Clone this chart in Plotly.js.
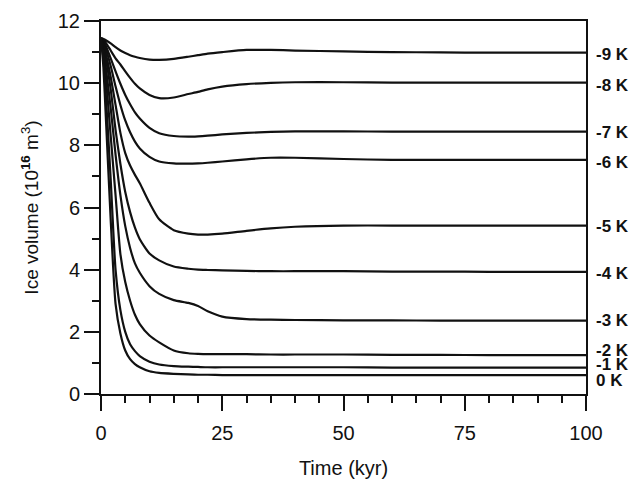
<!DOCTYPE html>
<html>
<head>
<meta charset="utf-8">
<script src="https://cdn.plot.ly/plotly-3.0.1.min.js"></script>
<style>html,body{margin:0;padding:0;background:#fff;}#chart{width:638px;height:480px;}</style>
</head>
<body>
<div id="chart"></div>
<script>
// Time (kyr)
const time = [0, 0.5, 1, 2, 3, 4, 5, 6, 7, 8, 10, 12, 15, 18, 20, 22, 25, 30, 35, 40, 50, 60, 70, 80, 90, 100];
// Ice volume (10^16 m^3) for each temperature anomaly
const labels = ["-9 K", "-8 K", "-7 K", "-6 K", "-5 K", "-4 K", "-3 K", "-2 K", "-1 K", "0 K"];
const m9 = [11.45, 11.42, 11.38, 11.28, 11.16, 11.05, 10.97, 10.9, 10.85, 10.81, 10.76, 10.75, 10.78, 10.85, 10.9, 10.95, 11.0, 11.07, 11.07, 11.05, 11.02, 11.0, 10.99, 10.98, 10.98, 10.98];
const m8 = [11.45, 11.4, 11.3, 11.05, 10.8, 10.6, 10.38, 10.17, 9.98, 9.83, 9.62, 9.52, 9.54, 9.65, 9.72, 9.8, 9.89, 9.97, 10.01, 10.03, 10.03, 10.02, 10.02, 10.02, 10.02, 10.02];
const m7 = [11.45, 11.35, 11.2, 10.8, 10.38, 9.98, 9.62, 9.32, 9.06, 8.86, 8.56, 8.39, 8.3, 8.28, 8.29, 8.31, 8.35, 8.4, 8.43, 8.45, 8.45, 8.44, 8.44, 8.44, 8.44, 8.44];
const m6 = [11.45, 11.3, 11.1, 10.55, 9.9, 9.3, 8.8, 8.42, 8.12, 7.9, 7.63, 7.48, 7.42, 7.41, 7.42, 7.44, 7.48, 7.55, 7.6, 7.6, 7.56, 7.53, 7.53, 7.53, 7.53, 7.53];
const m5 = [11.45, 11.25, 10.95, 10.2, 9.3, 8.4, 7.75, 7.35, 7.05, 6.78, 6.15, 5.62, 5.27, 5.16, 5.13, 5.13, 5.16, 5.25, 5.33, 5.38, 5.42, 5.42, 5.42, 5.42, 5.42, 5.42];
const m4 = [11.45, 11.2, 10.8, 9.8, 8.5, 7.4, 6.5, 5.85, 5.35, 4.98, 4.52, 4.3, 4.1, 4.03, 4.0, 3.99, 3.98, 3.96, 3.95, 3.95, 3.95, 3.94, 3.94, 3.93, 3.93, 3.93];
const m3 = [11.45, 11.1, 10.5, 9.2, 7.7, 6.4, 5.4, 4.7, 4.2, 3.9, 3.47, 3.22, 3.02, 2.93, 2.83, 2.66, 2.49, 2.41, 2.39, 2.38, 2.37, 2.37, 2.36, 2.36, 2.36, 2.36];
const m2 = [11.45, 11.0, 10.2, 8.3, 6.4, 4.5, 3.6, 3.0, 2.55, 2.25, 1.88, 1.66, 1.4, 1.31, 1.29, 1.28, 1.28, 1.28, 1.27, 1.27, 1.27, 1.26, 1.26, 1.25, 1.25, 1.25];
const m1 = [11.45, 10.8, 9.6, 6.9, 4.0, 2.7, 2.0, 1.6, 1.38, 1.22, 1.04, 0.95, 0.9, 0.88, 0.87, 0.86, 0.86, 0.86, 0.86, 0.86, 0.86, 0.85, 0.85, 0.85, 0.85, 0.85];
const m0 = [11.45, 10.5, 8.9, 5.6, 2.9, 1.95, 1.4, 1.12, 0.96, 0.86, 0.73, 0.68, 0.65, 0.63, 0.62, 0.62, 0.61, 0.61, 0.61, 0.61, 0.61, 0.61, 0.61, 0.61, 0.61, 0.61];
const xTicks = [0, 25, 50, 75, 100];
const yTicks = [0, 2, 4, 6, 8, 10, 12];

const series = [m9, m8, m7, m6, m5, m4, m3, m2, m1, m0];
const labelShift = [-2, -3, -1, -3, -1, -2, 0, 5, 3, -5];

const FONT = "Liberation Sans, Arial, Helvetica, sans-serif";
const traces = series.map((ys, i) => ({
  x: time, y: ys, type: "scatter", mode: "lines", name: labels[i],
  line: {color: "#111", width: 2.2, shape: "spline", smoothing: 0.6},
  hoverinfo: "skip"
}));

const annotations = series.map((ys, i) => ({
  x: time[time.length - 1], y: ys[ys.length - 1], xref: "x", yref: "y",
  text: "<b>" + labels[i] + "</b>", showarrow: false,
  xanchor: "left", yanchor: "middle", xshift: 8, yshift: labelShift[i],
  font: {family: FONT, size: 17, color: "#111"}
}));

const layout = {
  width: 638, height: 480,
  margin: {l: 101, r: 52, t: 21, b: 86},
  paper_bgcolor: "#fff", plot_bgcolor: "#fff",
  showlegend: false,
  font: {family: FONT, color: "#111"},
  xaxis: {
    range: [0, 100], tickvals: xTicks, ticktext: xTicks.map(String),
    ticks: "outside", ticklen: 15, tickwidth: 2, tickcolor: "#111",
    minor: {dtick: 5, ticks: "outside", ticklen: 7, tickwidth: 2, tickcolor: "#111"},
    showline: true, linecolor: "#111", linewidth: 2, mirror: true,
    showgrid: false, zeroline: false, ticklabelstandoff: 5,
    tickfont: {family: FONT, size: 20, color: "#111"},
    title: {text: "Time (kyr)", font: {family: FONT, size: 20, color: "#111"}, standoff: 18}
  },
  yaxis: {
    range: [0, 12], tickvals: yTicks, ticktext: yTicks.map(String),
    ticks: "outside", ticklen: 15, tickwidth: 2, tickcolor: "#111",
    minor: {dtick: 1, ticks: "outside", ticklen: 7, tickwidth: 2, tickcolor: "#111"},
    showline: true, linecolor: "#111", linewidth: 2, mirror: true,
    showgrid: false, zeroline: false,
    tickfont: {family: FONT, size: 20, color: "#111"},
    title: {text: "Ice volume (10<sup><b>16</b></sup> m<sup>3</sup>)", font: {family: FONT, size: 19, color: "#111"}, standoff: 14}
  },
  annotations: annotations
};

Plotly.newPlot("chart", traces, layout, {staticPlot: true, displayModeBar: false});
</script>
</body>
</html>
